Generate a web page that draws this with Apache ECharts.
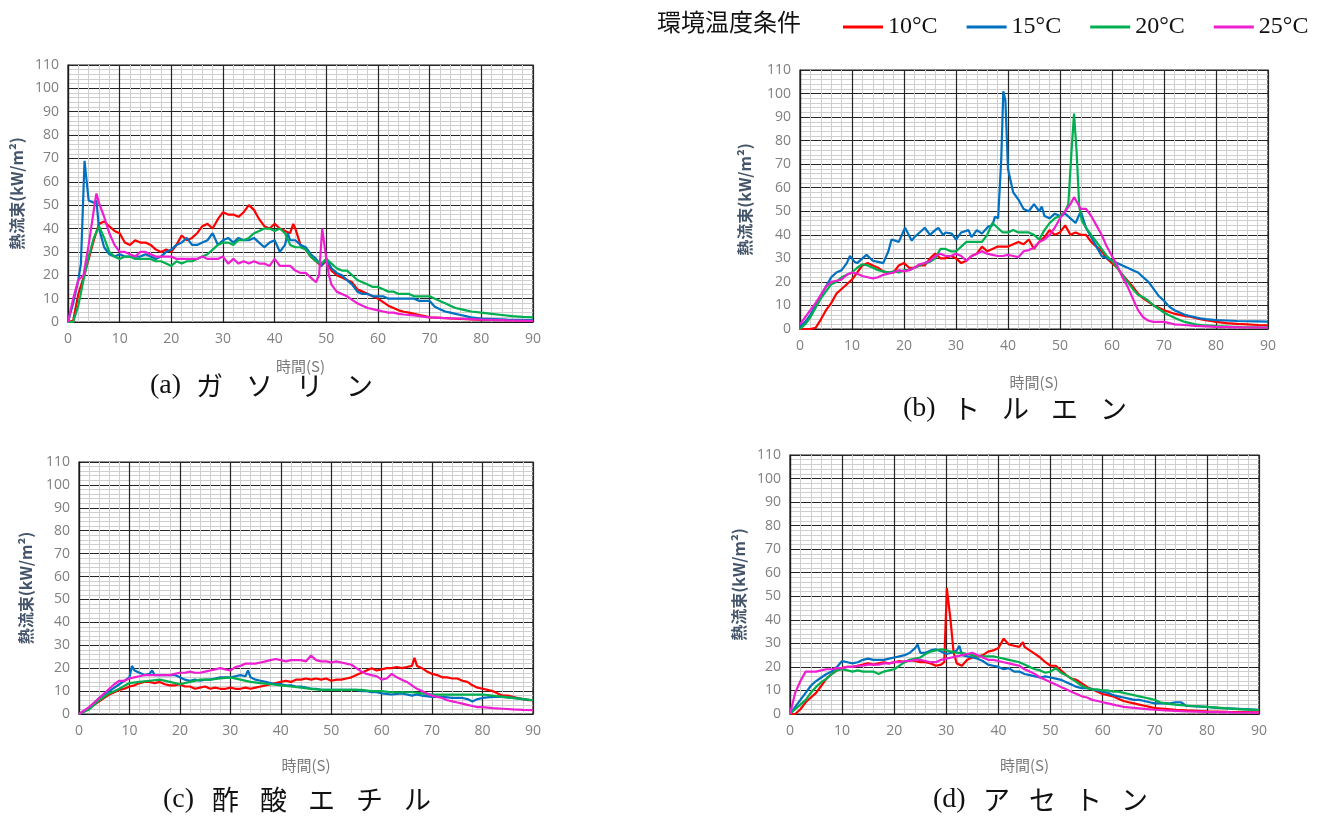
<!DOCTYPE html>
<html><head><meta charset="utf-8">
<script src="https://cdn.jsdelivr.net/npm/echarts@6/dist/echarts.min.js"></script>
<style>html,body{margin:0;padding:0;background:#fff}#c{width:1317px;height:821px}</style>
</head><body><div id="c"></div>
<script>
// ---- legend / series names ----
const seriesNames = ['10°C', '15°C', '20°C', '25°C'];
const legendTitle = '環境温度条件';
const xAxisTitle = '時間(S)';
const yAxisTitle = '熱流束(kW/m²)';
const xMin = 0, xMax = 90, xStep = 10;
const yMin = 0, yMax = 110, yStep = 10;

// ---- (a) ガソリン : [time s, heat flux kW/m2] ----
const gasoline10 = [[0,0],[1,0.5],[2,12],[3,19],[4,27],[5,35],[6,42],[7,43],[8,41],[9,39],[10,38],[11,34],[12,33],[13,35],[14,34],[15,34],[16,33],[17,31],[18,30],[19,31],[20,30],[21,33],[22,37],[23,35],[24,36],[25,38],[26,41],[27,42],[28,40],[29,44],[30,47],[31,46],[32,46],[33,45],[34,47],[35,50],[36,48],[37,44],[38,41],[39,40],[40,42],[41,40],[42,39],[43,38],[43.6,42],[44,40],[45,33],[46,31],[47,28],[48,26],[49,24],[50,26],[51,22],[52,20],[53,19],[54,18],[55,17],[56,14],[57,13],[58,12],[59,11],[60,10],[61,8.5],[62,7],[63,6],[64,5],[65,4.4],[66,4],[67,3.5],[68,3],[69,2.5],[70,2],[72,1.8],[74,1.5],[76,1.3],[78,1.1],[80,0.9],[85,0.8],[90,0.6]];
const gasoline15 = [[0,0],[1,8],[2,18],[2.5,25],[3.2,69],[4,52],[5,51],[5.5,52],[6,40],[7,32],[8,29],[9,28],[10,29],[11,28],[12,28],[13,28],[14,28],[15,29],[16,28],[17,27],[18,28],[19,30],[20,31],[21,33],[22,34],[23,36],[24,33],[25,33],[26,34],[27,35],[28,38],[29,33],[30,35],[31,36],[32,34],[33,36],[34,35],[35,35],[36,36],[37,34],[38,32],[39,34],[40,35],[41,30],[42,33],[42.5,38],[43,35],[44,35],[45,33],[46,32],[47,29],[48,27],[49,24],[50,27],[51,23],[52,21],[53,20],[54,18],[55,16],[56,13],[57,12],[58,12],[59,11],[60,11],[61,11],[62,10],[63,10],[64,10],[65,10],[66,10],[67,10],[68,9],[69,9],[70,9],[71,6.5],[72,5.5],[73,4.5],[74,4],[75,3.5],[76,3],[77,2.5],[78,2],[80,1.5],[85,1],[90,0.8]];
const gasoline20 = [[0,0],[1,0],[2,7],[3,18],[4,28],[5,36],[6,41],[7,36],[8,30],[9,28],[10,27],[11,28],[12,28],[13,27],[14,27],[15,27],[16,27],[17,26],[18,26],[19,25],[20,24],[21,26],[22,25],[23,26],[24,26],[25,27],[26,28],[27,29],[28,31],[29,33],[30,34],[31,34],[32,33],[33,35],[34,35],[35,36],[36,38],[37,39],[38,40],[39,40],[40,39],[41,40],[42,38],[43,33],[44,32],[45,32],[46,31],[47,28],[48,26],[49,25],[50,27],[51,25],[52,23],[53,22],[54,22],[55,20],[56,18],[57,17],[58,16],[59,15],[60,15],[61,14],[62,13],[63,13],[64,12],[65,12],[66,12],[67,11],[68,11],[69,11],[70,11],[71,10],[72,9],[73,8],[74,7],[75,6],[76,5.5],[77,5],[78,4.5],[80,4],[82,3.5],[84,3],[86,2.5],[88,2.2],[90,2]];
const gasoline25 = [[0,0],[1,10],[2,18],[3,20],[4,33],[5,48],[5.5,55],[6,51],[7,45],[8,38],[9,33],[10,30],[11,30],[12,29],[13,28],[14,30],[15,30],[16,29],[17,28],[18,28],[19,28],[20,28],[21,27],[22,27],[23,27],[24,27],[25,27],[26,28],[27,27],[28,27],[29,27],[30,28],[31,25],[32,27],[33,25],[34,26],[35,25],[36,26],[37,25],[38,25],[39,24],[40,27],[41,24],[42,24],[43,24],[44,22],[45,21],[46,21],[47,19],[48,17],[48.6,20],[49.2,40],[50,27],[50.5,20],[51,16],[52,13],[53,12],[54,11],[55,9.5],[56,8],[57,7],[58,6],[59,5.5],[60,5],[61,4.5],[62,4],[63,4],[64,3.5],[65,3.2],[66,3],[67,2.8],[68,2.5],[69,2.2],[70,2],[72,1.8],[75,1.5],[80,1],[85,0.7],[90,0.5]];

// ---- (b) トルエン ----
const toluene10 = [[0,0],[1,0],[2,0],[3,0.5],[4,4],[5,8],[6,11],[7,15],[8,17],[9,19],[10,21],[11,24],[12,27],[13,28],[14,27],[15,26],[16,24.5],[17,24],[18,24],[19,27],[20,28],[21,26],[22,26],[23,27],[24,27],[25,30],[26,32],[27,30],[28,30],[29,31],[30,30],[31,28],[32,29],[33,31],[34,32],[35,35],[36,33],[37,34],[38,35],[39,35],[40,35],[41,36],[42,37],[43,36],[44,38],[45,34],[46,37],[47,39],[48,42],[49,40],[50,41],[51,44],[52,40],[53,41],[54,40],[55,40],[56,37],[57,35],[58,33],[59,30],[60,28],[61,26],[62,23],[63,20.5],[64,18],[65,15],[66,13],[67,11.5],[68,10],[69,9],[70,8],[71,7.2],[72,6.5],[73,6],[74,5.5],[75,5.2],[76,4.7],[77,4.2],[78,3.8],[79,3.4],[80,3],[82,2.5],[84,2.2],[86,2],[88,1.7],[90,1.5]];
const toluene15 = [[0,1],[1,3],[2,6],[3,10],[4,14],[5,18],[6,22],[7,24],[8,25],[9,28],[9.6,31],[10.5,28.5],[11,28],[12,30],[12.8,31.5],[14,29],[15,28.5],[16,28],[17,33],[17.6,38],[19,37],[20.2,43],[21.5,37.5],[22,39],[23,41],[24,43],[25,40],[26,42],[26.6,43],[27.5,40],[28,41],[29.2,40.5],[30,38],[31,41],[32.4,42],[33,39],[34,42],[35,40.5],[36.2,43.5],[37,44],[37.5,47.7],[38.1,47],[38.7,72],[39.1,101],[39.5,97],[40,68],[41,58],[42,55],[43,51],[44,50],[45,53],[46,50],[46.5,52],[47,48],[48,47],[49,49],[50,48],[51,49],[52,47],[53,45],[54,50],[55,43],[56,39],[57,35],[58,31],[59,30],[60,29],[61,28],[62,27],[63,26],[64,25],[65,24],[66,22],[67,20],[68,17],[69,14],[70,12],[71,9.5],[72,8],[73,7],[74,6],[75,5.5],[76,5],[77,4.5],[78,4.2],[79,4],[80,3.8],[82,3.6],[84,3.4],[86,3.3],[88,3.2],[90,3.1]];
const toluene20 = [[0,0],[1,2],[2,5],[3,9],[4,13],[5,16],[6,19],[7,20],[8,22],[9,23],[10,24],[11,26],[12,27.5],[13,27],[14,26],[15,25],[16,24.5],[17,24],[18,24.5],[19,24],[20,25],[21,25],[22,26],[23,27],[24,28],[25,28.5],[26,30],[27,34],[28,34],[29,33],[30,33],[31,35],[32,37],[33,37],[34,37],[35,37],[36,40],[37,45],[38,43],[39,41],[40,41],[41,42],[42,41],[43,41],[44,41],[45,40],[46,38],[47,42],[48,45],[49,47],[50,48],[51,50],[51.6,53],[52.2,75],[52.7,91.5],[53.2,75],[53.7,52],[54.2,46],[55,43],[56,40],[57,37],[58,34],[59,31],[60,29],[61,26],[62,23],[63,20],[64,17],[65,14.5],[66,13.5],[67,12],[68,10],[69,8.5],[70,7],[71,5.8],[72,4.8],[73,3.8],[74,3],[75,2.5],[76,2],[78,1.5],[80,1.2],[85,0.8],[90,0.6]];
const toluene25 = [[0,2],[1,5],[2,8],[3,11],[4,14.5],[5,18],[6,20],[7,20.5],[8,21],[9,23],[10,24],[11,23.5],[12,22.5],[13,22],[14,21.5],[15,22],[16,23],[17,23.5],[18,24],[19,25],[20,24.5],[21,25],[22,26],[23,27.5],[24,28],[25,29],[26,31],[27,32],[28,31],[29,31],[30,32],[31,31],[32,29],[33,31],[34,32],[35,33],[36,32],[37,31.5],[38,31],[39,31],[40,31.5],[41,31],[42,30.5],[43,33],[44,33.5],[45,34.5],[46,37],[47,38],[48,40],[49,43],[50,47],[51,50],[52,53],[52.7,56],[53.5,53],[54,51],[55,51],[56,48],[57,44],[58,40],[59,35],[60,31],[61,27],[62,22],[63,18],[64,13],[65,8],[66,5],[67,3.5],[68,3],[69,3],[70,3],[71,2.5],[72,2],[74,1.7],[76,1.3],[80,0.9],[85,0.7],[90,0.6]];

// ---- (c) 酢酸エチル ----
const ethylAcetate10 = [[0,0],[1,1],[2,2.5],[3,4],[4,5.5],[5,7],[6,8.5],[7,9.5],[8,10.5],[9,11],[10,12],[11,12.5],[12,13.5],[13,14],[14,14],[15,13.5],[16,14],[17,13],[18,12.5],[19,12.5],[20,13],[21,12],[22,12],[23,11],[24,11.5],[25,12],[26,11],[27,11.5],[28,11],[29,11],[30,11.5],[31,11],[32,11],[33,11.5],[34,11],[35,11.5],[36,12],[37,12.5],[38,13],[39,13.5],[40,14],[41,14.5],[42,14],[43,15],[44,15],[45,15.5],[46,15],[47,15.5],[48,15],[49,15.5],[50,14.5],[51,15],[52,15],[53,15.5],[54,16],[55,17],[56,18],[57,19],[58,20],[59,19],[60,19.5],[61,20],[62,20],[63,20.5],[64,20],[65,20.5],[66,21],[66.5,24.5],[67,21],[68,20],[69,18.5],[70,17.5],[71,17],[72,16],[73,16],[74,15.5],[75,15.5],[76,14.5],[77,14],[78,12.5],[79,11.5],[80,11],[81,10.5],[82,10],[83,9],[84,8],[85,8],[86,7.5],[87,7],[88,6.5],[89,6],[90,6]];
const ethylAcetate15 = [[0,0],[2,2.5],[4,7],[6,10],[8,13],[10,16],[10.5,21],[11,19],[12,18],[13,17],[14,17.5],[14.5,19],[15,17],[16,17],[17,17],[18,17],[19,17],[20,16],[21,15],[22,14.5],[23,15],[24,14.5],[25,15],[26,15],[27,15.5],[28,16],[29,16],[30,16],[31,16.5],[32,17],[33,16.5],[33.5,19],[34,16],[35,15],[36,14.5],[37,14],[38,13.5],[39,13],[40,13],[41,12.5],[42,12.5],[43,12],[44,12],[45,11.5],[46,11],[47,11],[48,10.5],[49,10.5],[50,10.5],[52,10.5],[54,10.5],[55,10.5],[56,10],[57,10],[58,9.5],[59,9.5],[60,9],[62,8.5],[64,9],[65,8.5],[66,8],[67,8.5],[68,8],[70,7.5],[72,7.5],[74,7],[76,7],[77,6.5],[78,5.5],[79,6.5],[80,7],[82,7.5],[84,7.5],[86,7],[88,6.5],[90,6]];
const ethylAcetate20 = [[0,0],[2,2],[4,6],[6,9],[8,11],[10,13.5],[12,14],[14,14.5],[16,15],[18,14],[20,13],[22,14],[24,15],[26,15],[28,15.5],[30,16],[32,15],[34,14],[36,13.5],[38,13],[40,12.5],[42,12],[44,11.5],[46,11],[48,10.5],[50,10.5],[52,10.5],[54,10.5],[56,10.5],[58,10],[60,10],[62,9.5],[64,9.5],[66,9.5],[68,9],[70,8.5],[72,8.5],[74,8.5],[76,8.5],[78,8.5],[80,8.5],[82,8],[84,7.5],[86,7],[88,6.5],[90,6]];
const ethylAcetate25 = [[0,0],[2,3],[4,7],[6,11],[7,13],[8,14.5],[9,14.5],[10,15.5],[11,16],[12,16.5],[13,17],[14,17],[15,17],[16,17],[17,17],[18,17],[19,17.5],[20,18],[21,18],[22,18.5],[23,18],[24,18],[25,18.5],[26,19],[27,19.5],[28,20],[29,19.5],[30,19],[31,20.5],[32,21],[33,22],[34,22],[35,22],[36,22.5],[37,23],[38,23.5],[39,24],[40,23.5],[41,23],[42,23.5],[43,23.5],[44,23.5],[45,23],[46,25.5],[47,23.5],[48,23],[49,23],[50,22.5],[51,23],[52,22.5],[53,22],[54,21.5],[55,20],[56,18.5],[57,17.5],[58,17],[59,16.5],[60,15],[61,15.5],[62,17.5],[63,16],[64,15],[65,14],[66,12.5],[67,11],[68,10],[69,9],[70,8],[71,7.5],[72,7],[73,6],[74,5.5],[75,5],[76,4.5],[77,4],[78,3.5],[79,3],[80,3],[81,2.8],[82,2.6],[84,2.3],[86,2],[88,1.8],[90,1.7]];

// ---- (d) アセトン ----
const acetone10 = [[0,0],[1,0],[2,2],[3,5],[4,7],[5,9],[6,12],[7,15],[8,17],[9,18.5],[10,19.5],[11,20],[12,20],[13,20.5],[14,21],[15,21.5],[16,21],[17,21.5],[18,22],[19,21.5],[20,22],[21,22.5],[22,22],[23,23],[24,22.5],[25,22],[26,22],[27,21.5],[28,20.5],[29,21],[29.6,22],[30.1,53.5],[30.8,40],[31.4,26],[32,21.5],[33,20.5],[34,23],[35,24],[36,24.5],[37,25],[38,26.5],[39,27],[40,28],[41,32],[42,29.5],[43,29],[44,28.5],[44.7,30.5],[45,28.5],[46,27],[47,25.5],[48,24],[49,22],[50,20.5],[51,20.5],[52,18.5],[53,16.5],[54,15],[55,14.5],[56,13],[57,11.5],[58,10.5],[59,9.5],[60,8.5],[61,8],[62,7.5],[63,6.5],[64,5.5],[65,5],[66,4.5],[67,4],[68,3.5],[69,3],[70,2.5],[72,2.2],[74,1.8],[76,1.5],[78,1.3],[80,1.1],[84,0.9],[90,0.7]];
const acetone15 = [[0,0],[1,3],[2,6],[3,9],[4,12],[5,14],[6,15.5],[7,17],[8,18],[9,20],[10,22.5],[11,22],[12,21.5],[13,22],[14,23],[15,23.5],[16,23],[17,23],[18,23],[19,23.5],[20,24],[21,24.5],[22,25],[23,26],[24,28],[24.5,29.5],[25,26],[26,26],[27,27],[28,27.5],[29,26.5],[30,25.5],[31,26],[32,27],[32.5,29],[33,25],[34,24.5],[35,24],[36,23.5],[37,22.5],[38,21],[39,20.5],[40,20],[41,19],[42,19.5],[43,18],[44,18],[45,17],[46,16.5],[47,16],[48,15.5],[49,16],[50,15.5],[51,15],[52,14.5],[53,13.5],[54,12.5],[55,11.5],[56,11],[57,11],[58,10.5],[59,10],[60,9.5],[61,9],[62,8],[63,7.5],[64,7],[65,6.5],[66,6],[67,6],[68,5.5],[69,5],[70,4.5],[71,4.5],[72,4.5],[73,4.5],[74,5],[75,5],[76,3.5],[77,3.3],[78,3.2],[80,3],[82,2.6],[84,2.4],[86,2.2],[88,2],[90,1.8]];
const acetone20 = [[0,0],[1,2],[2,4],[3,6],[4,9],[5,11.5],[6,13.5],[7,15],[8,17],[9,18.5],[10,19],[11,18.5],[12,18],[13,18.5],[14,18],[15,18],[16,18],[17,17],[18,18],[19,18.5],[20,19],[21,20.5],[22,22],[23,23],[24,23.5],[25,24],[26,25.5],[27,26.5],[28,27],[29,27.5],[30,27],[31,26.5],[32,26],[33,26],[34,25.5],[35,25],[36,24.5],[37,24.5],[38,24.5],[39,24.5],[40,24],[41,23.5],[42,23],[43,22.5],[44,22],[45,21],[46,20],[47,19],[48,18.5],[49,17.5],[50,18],[51,19.5],[52,17.5],[53,16.5],[54,15],[55,13.5],[56,12],[57,11],[58,10.5],[59,10.5],[60,10],[61,10],[62,9.5],[63,9.5],[64,9],[65,8.5],[66,8],[67,7.5],[68,7],[69,6.5],[70,6],[71,5],[72,4.5],[73,4.2],[74,4],[75,3.8],[76,3.6],[78,3.3],[80,3],[82,2.7],[84,2.4],[86,2.1],[88,1.9],[90,1.7]];
const acetone25 = [[0,0],[1,9],[2,14],[3,18],[4,18],[5,18],[6,18.5],[7,19],[8,19],[9,19.5],[10,19.5],[11,20],[12,20],[13,20.5],[14,20.5],[15,21],[16,21],[17,21],[18,21.5],[19,21.5],[20,22],[21,22],[22,22.5],[23,22.5],[24,23],[25,23],[26,22.5],[27,22],[28,22],[29,23],[30,23.5],[31,24],[32,24.5],[33,25],[34,25.5],[35,26],[36,25],[37,24],[38,23],[39,23],[40,22.5],[41,22],[42,21.5],[43,21],[44,20.5],[45,19],[46,18],[47,17],[48,15.5],[49,14.5],[50,13.5],[51,12.5],[52,11.5],[53,10.5],[54,9.5],[55,8.5],[56,7.5],[57,7],[58,6],[59,5.5],[60,5],[61,4.5],[62,4],[63,3.5],[64,3],[65,2.8],[66,2.6],[67,2.4],[68,2.2],[69,2],[70,1.8],[72,1.5],[74,1.3],[76,1.1],[80,0.9],[85,0.7],[90,0.6]];

const panels = [
  {data: [gasoline10, gasoline15, gasoline20, gasoline25]},
  {data: [toluene10, toluene15, toluene20, toluene25]},
  {data: [ethylAcetate10, ethylAcetate15, ethylAcetate20, ethylAcetate25]},
  {data: [acetone10, acetone15, acetone20, acetone25]}
];
const captionPrefix = ['(a)', '(b)', '(c)', '(d)'];
const captionWords = ['ガソリン', 'トルエン', '酢酸エチル', 'アセトン'];

// ---- layout (styles/positions) ----
const colors = ['#ff0000', '#0070c0', '#00b050', '#ee1fd0'];
const gridBoxes = [
  {left: 68, top: 65, width: 465, height: 257},
  {left: 800, top: 70, width: 468, height: 259},
  {left: 79, top: 462, width: 454, height: 252},
  {left: 790, top: 455, width: 469, height: 259}
];
const yNameGaps = [43, 47, 45, 43];
const xNameGaps = [37, 46, 44, 44];
// caption layout: [x of prefix, y center, x of first word glyph, glyph step]
const captionLayout = [
  [150, 386, 196, 50],
  [903, 409, 953, 49],
  [163, 800, 212, 48],
  [933, 800, 983, 46]
];

const chart = echarts.init(document.getElementById('c'), null, {renderer: 'canvas'});
const grid = [], xAxis = [], yAxis = [], series = [];
const tickColor = '#808080';
gridBoxes.forEach((g, i) => {
  grid.push(Object.assign({show: true, borderColor: '#1a1a1a', borderWidth: 1.2, backgroundColor: '#fff'}, g));
  xAxis.push({
    type: 'value', gridIndex: i, min: xMin, max: xMax, interval: xStep,
    axisLine: {show: true, onZero: false, lineStyle: {color: '#1a1a1a', width: 1.2}},
    axisTick: {show: false},
    minorTick: {show: false, splitNumber: 5},
    splitLine: {show: true, lineStyle: {color: '#262626', width: 1.2}},
    minorSplitLine: {show: true, lineStyle: {color: '#cfcfcf', width: 1}},
    axisLabel: {color: tickColor, fontSize: 14, fontFamily: 'Open Sans', margin: 10},
    name: xAxisTitle, nameLocation: 'middle', nameGap: xNameGaps[i],
    nameTextStyle: {color: '#7a7a7a', fontSize: 15, fontFamily: 'Noto Sans CJK JP'}
  });
  yAxis.push({
    type: 'value', gridIndex: i, min: yMin, max: yMax, interval: yStep,
    axisLine: {show: true, lineStyle: {color: '#1a1a1a', width: 1.2}},
    axisTick: {show: false},
    minorTick: {show: false, splitNumber: 5},
    splitLine: {show: true, lineStyle: {color: '#262626', width: 1.2}},
    minorSplitLine: {show: true, lineStyle: {color: '#cfcfcf', width: 1}},
    axisLabel: {color: tickColor, fontSize: 14, fontFamily: 'Open Sans', margin: 9},
    name: yAxisTitle, nameLocation: 'middle', nameGap: yNameGaps[i], nameRotate: 90,
    nameTextStyle: {color: '#44546a', fontSize: 16, fontWeight: 'bold', fontFamily: 'Noto Sans CJK JP'}
  });
  panels[i].data.forEach((d, k) => {
    series.push({
      type: 'line', name: seriesNames[k], xAxisIndex: i, yAxisIndex: i,
      data: d, showSymbol: false, symbol: 'none', smooth: false,
      lineStyle: {color: colors[k], width: 2.2}, itemStyle: {color: colors[k]},
      z: 3 + k, animation: false
    });
  });
});

const graphic = [{
  type: 'text', left: 657, top: 10,
  style: {text: legendTitle, font: '24px "Noto Sans CJK JP"', fill: '#111'}
}];
captionLayout.forEach((c, i) => {
  graphic.push({type: 'text', x: c[0], y: c[1],
    style: {text: captionPrefix[i], font: '28px "Liberation Serif"', fill: '#111', textVerticalAlign: 'middle'}});
  Array.from(captionWords[i]).forEach((ch, j) => {
    graphic.push({type: 'text', x: c[2] + j * c[3], y: c[1],
      style: {text: ch, font: '27px "Noto Sans CJK JP"', fill: '#111', textVerticalAlign: 'middle'}});
  });
});

chart.setOption({
  backgroundColor: '#fff',
  animation: false,
  color: colors,
  legend: {
    data: seriesNames, left: 838, top: 10, icon: 'rect', itemWidth: 40, itemHeight: 3, itemGap: 29,
    selectedMode: false,
    textStyle: {fontFamily: 'Liberation Serif', fontSize: 24, color: '#111'}
  },
  grid, xAxis, yAxis, series, graphic
});
</script>
</body></html>
